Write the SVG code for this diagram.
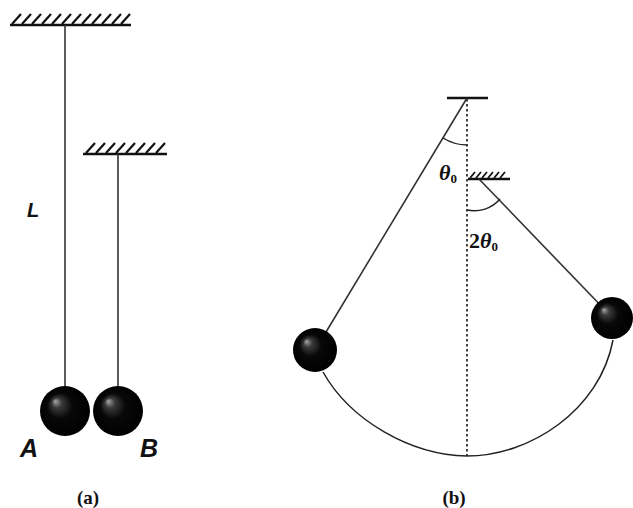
<svg xmlns="http://www.w3.org/2000/svg" width="633" height="508" viewBox="0 0 633 508">
  <defs>
    <radialGradient id="ballShade" cx="0.5" cy="0.5" r="0.5" fx="0.3" fy="0.3">
      <stop offset="0" stop-color="#a8a8a8"/>
      <stop offset="0.2" stop-color="#3a3a3a"/>
      <stop offset="0.5" stop-color="#080808"/>
      <stop offset="1" stop-color="#000"/>
    </radialGradient>
    <!-- one ceiling hatch stroke -->
    <path id="hatch" d="M0 0 L9 -10" />
    <path id="hatchSmall" d="M0 0 L5 -6" />
  </defs>
  <style>
    .bar { stroke: #111; stroke-width: 2.5; fill: none; }
    .hatch { stroke: #111; stroke-width: 2.2; fill: none; }
    .string { stroke: #333; stroke-width: 1.6; fill: none; }
    .path { stroke: #222; stroke-width: 1.5; fill: none; }
    .dotted { stroke: #222; stroke-width: 1.7; stroke-dasharray: 2.5 2.5; fill: none; }
    .angle { stroke: #222; stroke-width: 1.4; fill: none; }
    .ball { fill: url(#ballShade); }
    .sym { font-family: "Liberation Sans", Arial, sans-serif; font-style: italic; font-weight: bold; fill: #111; }
    .greek { font-family: "Liberation Serif", "Times New Roman", serif; font-style: italic; font-weight: bold; fill: #111; }
    .caption { font-family: "Liberation Serif", "Times New Roman", serif; font-weight: bold; font-size: 19px; fill: #111; }
  </style>

  <!-- (a) two pendulums of different lengths -->
  <g id="ceiling-a1">
    <line class="bar" x1="10" y1="25" x2="131" y2="25"/>
    <g class="hatch">
      <use href="#hatch" x="12" y="24"/><use href="#hatch" x="22" y="24"/>
      <use href="#hatch" x="32" y="24"/><use href="#hatch" x="42" y="24"/>
      <use href="#hatch" x="52" y="24"/><use href="#hatch" x="62" y="24"/>
      <use href="#hatch" x="72" y="24"/><use href="#hatch" x="82" y="24"/>
      <use href="#hatch" x="92" y="24"/><use href="#hatch" x="102" y="24"/>
      <use href="#hatch" x="112" y="24"/><use href="#hatch" x="121" y="24"/>
    </g>
  </g>
  <g id="ceiling-a2">
    <line class="bar" x1="83" y1="154" x2="167" y2="154"/>
    <g class="hatch">
      <use href="#hatch" x="86" y="153"/><use href="#hatch" x="96" y="153"/>
      <use href="#hatch" x="106" y="153"/><use href="#hatch" x="116" y="153"/>
      <use href="#hatch" x="126" y="153"/><use href="#hatch" x="136" y="153"/>
      <use href="#hatch" x="146" y="153"/><use href="#hatch" x="156" y="153"/>
    </g>
  </g>
  <g id="pendulum-A">
    <line class="string" x1="65" y1="25" x2="65" y2="388"/>
    <circle class="ball" cx="65" cy="411" r="25"/>
    <text class="sym" x="20" y="457" font-size="25">A</text>
  </g>
  <g id="pendulum-B">
    <line class="string" x1="118" y1="154" x2="118" y2="388"/>
    <circle class="ball" cx="118" cy="411" r="25"/>
    <text class="sym" x="140" y="457" font-size="25">B</text>
  </g>
  <text id="label-L" class="sym" x="27" y="217" font-size="20">L</text>
  <text id="caption-a" class="caption" x="88" y="504" text-anchor="middle">(a)</text>

  <!-- (b) pendulum caught by a peg below the pivot -->
  <g id="pivot-b">
    <line class="bar" x1="447" y1="98" x2="488" y2="98"/>
  </g>
  <g id="peg-b">
    <line class="bar" x1="468" y1="179" x2="510" y2="179"/>
    <g class="hatch" style="stroke-width:1.8">
      <use href="#hatchSmall" x="470" y="178"/><use href="#hatchSmall" x="476" y="178"/>
      <use href="#hatchSmall" x="482" y="178"/><use href="#hatchSmall" x="488" y="178"/>
      <use href="#hatchSmall" x="494" y="178"/><use href="#hatchSmall" x="500" y="178"/>
    </g>
  </g>
  <g id="connectors">
    <line class="dotted" x1="467" y1="99" x2="467" y2="456"/>
    <line class="string" x1="467" y1="98" x2="320" y2="342"/>
    <line class="string" x1="479" y1="179" x2="607" y2="312"/>
    <path class="path" d="M323 372 C350 420 410 455 467 456 C530 456 600 410 613 340"/>
    <path class="angle" d="M443 138 A47 47 0 0 0 467 145"/>
    <path class="angle" d="M467 210 A34 34 0 0 0 500 199"/>
  </g>
  <g id="bob-left">
    <circle class="ball" cx="315" cy="350" r="22"/>
  </g>
  <g id="bob-right">
    <circle class="ball" cx="612" cy="318" r="21"/>
  </g>
  <text id="label-theta" class="greek" x="439" y="180" font-size="22">θ<tspan font-size="13" dy="3" font-style="normal">0</tspan></text>
  <text id="label-2theta" class="greek" x="469" y="248" font-size="22"><tspan font-style="normal">2</tspan>θ<tspan font-size="13" dy="3" font-style="normal">0</tspan></text>
  <text id="caption-b" class="caption" x="454" y="504" text-anchor="middle">(b)</text>
</svg>
